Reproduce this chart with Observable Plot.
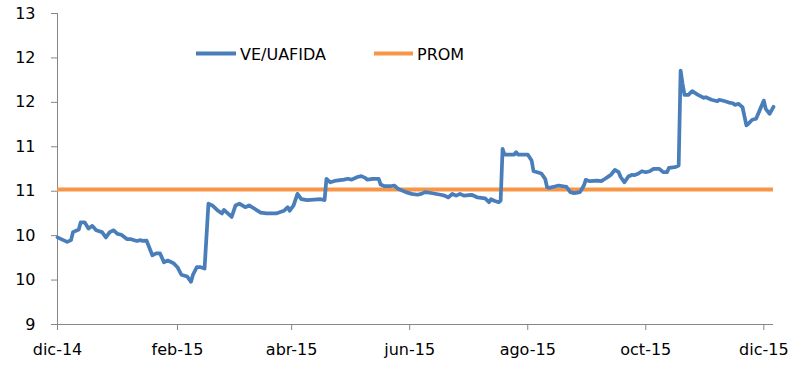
<!DOCTYPE html>
<html>
<head>
<meta charset="utf-8">
<script src="https://cdn.jsdelivr.net/npm/d3@7"></script>
<script src="https://cdn.jsdelivr.net/npm/@observablehq/plot@0.6"></script>
<style>
  html, body { margin: 0; padding: 0; background: #fff; }
  #chart { position: relative; width: 808px; height: 384px; }
</style>
</head>
<body>
<div id="chart"></div>
<script>
// Series: VE/UAFIDA (dates and values)
const dates = [
  "2014-12-01","2014-12-04","2014-12-06","2014-12-08","2014-12-09","2014-12-12","2014-12-13","2014-12-15",
  "2014-12-17","2014-12-19","2014-12-21","2014-12-24","2014-12-26","2014-12-28","2014-12-30","2015-01-01",
  "2015-01-03","2015-01-06","2015-01-08","2015-01-11","2015-01-13","2015-01-14","2015-01-16","2015-01-19",
  "2015-01-21","2015-01-23","2015-01-25","2015-01-27","2015-01-30","2015-02-01","2015-02-03","2015-02-06",
  "2015-02-08","2015-02-09","2015-02-11","2015-02-13","2015-02-15","2015-02-17","2015-02-19","2015-02-22",
  "2015-02-24","2015-02-25","2015-03-01","2015-03-03","2015-03-05","2015-03-08","2015-03-10","2015-03-16",
  "2015-03-19","2015-03-24","2015-03-28","2015-03-30","2015-03-31","2015-04-02","2015-04-04","2015-04-06",
  "2015-04-09","2015-04-16","2015-04-18","2015-04-19","2015-04-21","2015-04-24","2015-04-28","2015-04-30",
  "2015-05-02","2015-05-05","2015-05-07","2015-05-09","2015-05-10","2015-05-13","2015-05-16","2015-05-17",
  "2015-05-19","2015-05-22","2015-05-24","2015-05-26","2015-05-30","2015-06-02","2015-06-05","2015-06-07",
  "2015-06-09","2015-06-12","2015-06-17","2015-06-19","2015-06-21","2015-06-23","2015-06-25","2015-06-27",
  "2015-06-29","2015-07-03","2015-07-05","2015-07-06","2015-07-10","2015-07-12","2015-07-13","2015-07-15",
  "2015-07-17","2015-07-18","2015-07-19","2015-07-20","2015-07-25","2015-07-26","2015-07-27","2015-08-01",
  "2015-08-03","2015-08-04","2015-08-06","2015-08-08","2015-08-10","2015-08-11","2015-08-12","2015-08-15",
  "2015-08-17","2015-08-21","2015-08-23","2015-08-25","2015-08-28","2015-08-30","2015-08-31","2015-09-02",
  "2015-09-06","2015-09-08","2015-09-10","2015-09-12","2015-09-13","2015-09-15","2015-09-17","2015-09-18",
  "2015-09-20","2015-09-22","2015-09-24","2015-09-25","2015-09-27","2015-09-29","2015-10-01","2015-10-03",
  "2015-10-05","2015-10-08","2015-10-10","2015-10-12","2015-10-13","2015-10-16","2015-10-18","2015-10-19",
  "2015-10-20","2015-10-21","2015-10-23","2015-10-25","2015-10-28","2015-10-31","2015-11-01","2015-11-04",
  "2015-11-07","2015-11-08","2015-11-11","2015-11-13","2015-11-15","2015-11-16","2015-11-18","2015-11-19",
  "2015-11-20","2015-11-22","2015-11-23","2015-11-25","2015-11-27","2015-12-01","2015-12-02","2015-12-04",
  "2015-12-06"
];
const values = [
  9.98, 9.95, 9.93, 9.95, 10.04, 10.07, 10.15, 10.15,
  10.08, 10.11, 10.06, 10.04, 9.98, 10.04, 10.06, 10.02,
  10.01, 9.96, 9.96, 9.94, 9.95, 9.94, 9.945, 9.78,
  9.80, 9.80, 9.70, 9.72, 9.69, 9.645, 9.56, 9.54,
  9.48, 9.56, 9.645, 9.645, 9.63, 10.36, 10.34, 10.28,
  10.25, 10.29, 10.21, 10.34, 10.36, 10.32, 10.34, 10.26,
  10.25, 10.25, 10.28, 10.32, 10.28, 10.34, 10.47, 10.41,
  10.40, 10.41, 10.40, 10.64, 10.60, 10.62, 10.63, 10.64,
  10.63, 10.66, 10.67, 10.65, 10.63, 10.64, 10.64, 10.575,
  10.556, 10.556, 10.564, 10.527, 10.49, 10.47, 10.46, 10.47,
  10.49, 10.48, 10.46, 10.45, 10.43, 10.47, 10.45, 10.47,
  10.45, 10.46, 10.44, 10.43, 10.42, 10.376, 10.41, 10.39,
  10.376, 10.395, 10.977, 10.913, 10.913, 10.94, 10.913, 10.913,
  10.846, 10.725, 10.714, 10.70, 10.64, 10.545, 10.538, 10.553,
  10.564, 10.55, 10.49, 10.478, 10.49, 10.564, 10.628, 10.613,
  10.62, 10.613, 10.64, 10.67, 10.685, 10.74, 10.714, 10.66,
  10.60, 10.666, 10.685, 10.68, 10.696, 10.725, 10.714, 10.725,
  10.752, 10.752, 10.714, 10.714, 10.763, 10.77, 10.789, 11.858,
  11.709, 11.585, 11.585, 11.626, 11.585, 11.551, 11.558, 11.529,
  11.513, 11.529, 11.513, 11.498, 11.49, 11.472, 11.483, 11.464,
  11.445, 11.24, 11.259, 11.304, 11.315, 11.52, 11.427, 11.371,
  11.45
];
// Average (PROM)
const prom = 10.52;

// Axis ticks and labels
const xTickDates = ["2014-12-01","2015-02-01","2015-04-01","2015-06-01","2015-08-01","2015-10-01","2015-12-01"];
const xTickLabels = ["dic-14","feb-15","abr-15","jun-15","ago-15","oct-15","dic-15"];
const yTicks = [9, 9.5, 10, 10.5, 11, 11.5, 12, 12.5];
const yTickLabels = ["9","10","10","11","11","12","12","13"];
const xDomain = ["2014-12-01", "2015-12-06"];

const seriesNames = ["VE/UAFIDA", "PROM"];
const colors = ["#4a7ebb", "#f79646"];

const parse = d3.utcParse("%Y-%m-%d");
const data = dates.map((d, i) => ({date: parse(d), value: values[i]}));
const xTicks = xTickDates.map(parse);
const xLabelMap = new Map(xTicks.map((d, i) => [+d, xTickLabels[i]]));
const yLabelMap = new Map(yTicks.map((v, i) => [v, yTickLabels[i]]));

const axisColor = "#868686";
const font = "'DejaVu Sans', Verdana, sans-serif";

const chart = Plot.plot({
  width: 808,
  height: 384,
  marginLeft: 57,
  marginRight: 35,
  marginTop: 13,
  marginBottom: 60,
  style: {fontFamily: font, fontSize: "16px", color: "#000", background: "#fff"},
  x: {type: "utc", domain: xDomain.map(parse)},
  y: {domain: [9, 12.5]},
  marks: [
    Plot.axisY({ticks: yTicks, tickFormat: v => yLabelMap.get(v), tickSize: 6, tickPadding: 16, stroke: axisColor, strokeOpacity: 1, fill: "#000", label: null, fontSize: 16}),
    Plot.axisX({ticks: xTicks, tickFormat: d => xLabelMap.get(+d), tickSize: 6, tickPadding: 13, stroke: axisColor, strokeOpacity: 1, fill: "#000", label: null, fontSize: 16}),
    Plot.ruleY([9], {stroke: axisColor, strokeWidth: 1}),
    Plot.ruleX([parse(xDomain[0])], {stroke: axisColor, strokeWidth: 1}),
    Plot.ruleY([prom], {stroke: colors[1], strokeWidth: 4}),
    Plot.line(data, {x: "date", y: "value", stroke: colors[0], strokeWidth: 3.75, strokeLinejoin: "round", strokeLinecap: "round"})
  ]
});

document.getElementById("chart").appendChild(chart);

// Legend inside the plot area
const svg = d3.select(chart);
const leg = svg.append("g").attr("font-family", font).attr("font-size", 16).attr("text-anchor", "start");
const legendItems = [
  {name: seriesNames[0], color: colors[0], x0: 196, x1: 236, tx: 240},
  {name: seriesNames[1], color: colors[1], x0: 374, x1: 413, tx: 417}
];
legendItems.forEach(it => {
  leg.append("line").attr("x1", it.x0).attr("x2", it.x1).attr("y1", 53.5).attr("y2", 53.5)
    .attr("stroke", it.color).attr("stroke-width", 4);
  leg.append("text").attr("x", it.tx).attr("y", 59.5).attr("fill", "#000").attr("text-anchor", "start").text(it.name);
});
</script>
</body>
</html>
